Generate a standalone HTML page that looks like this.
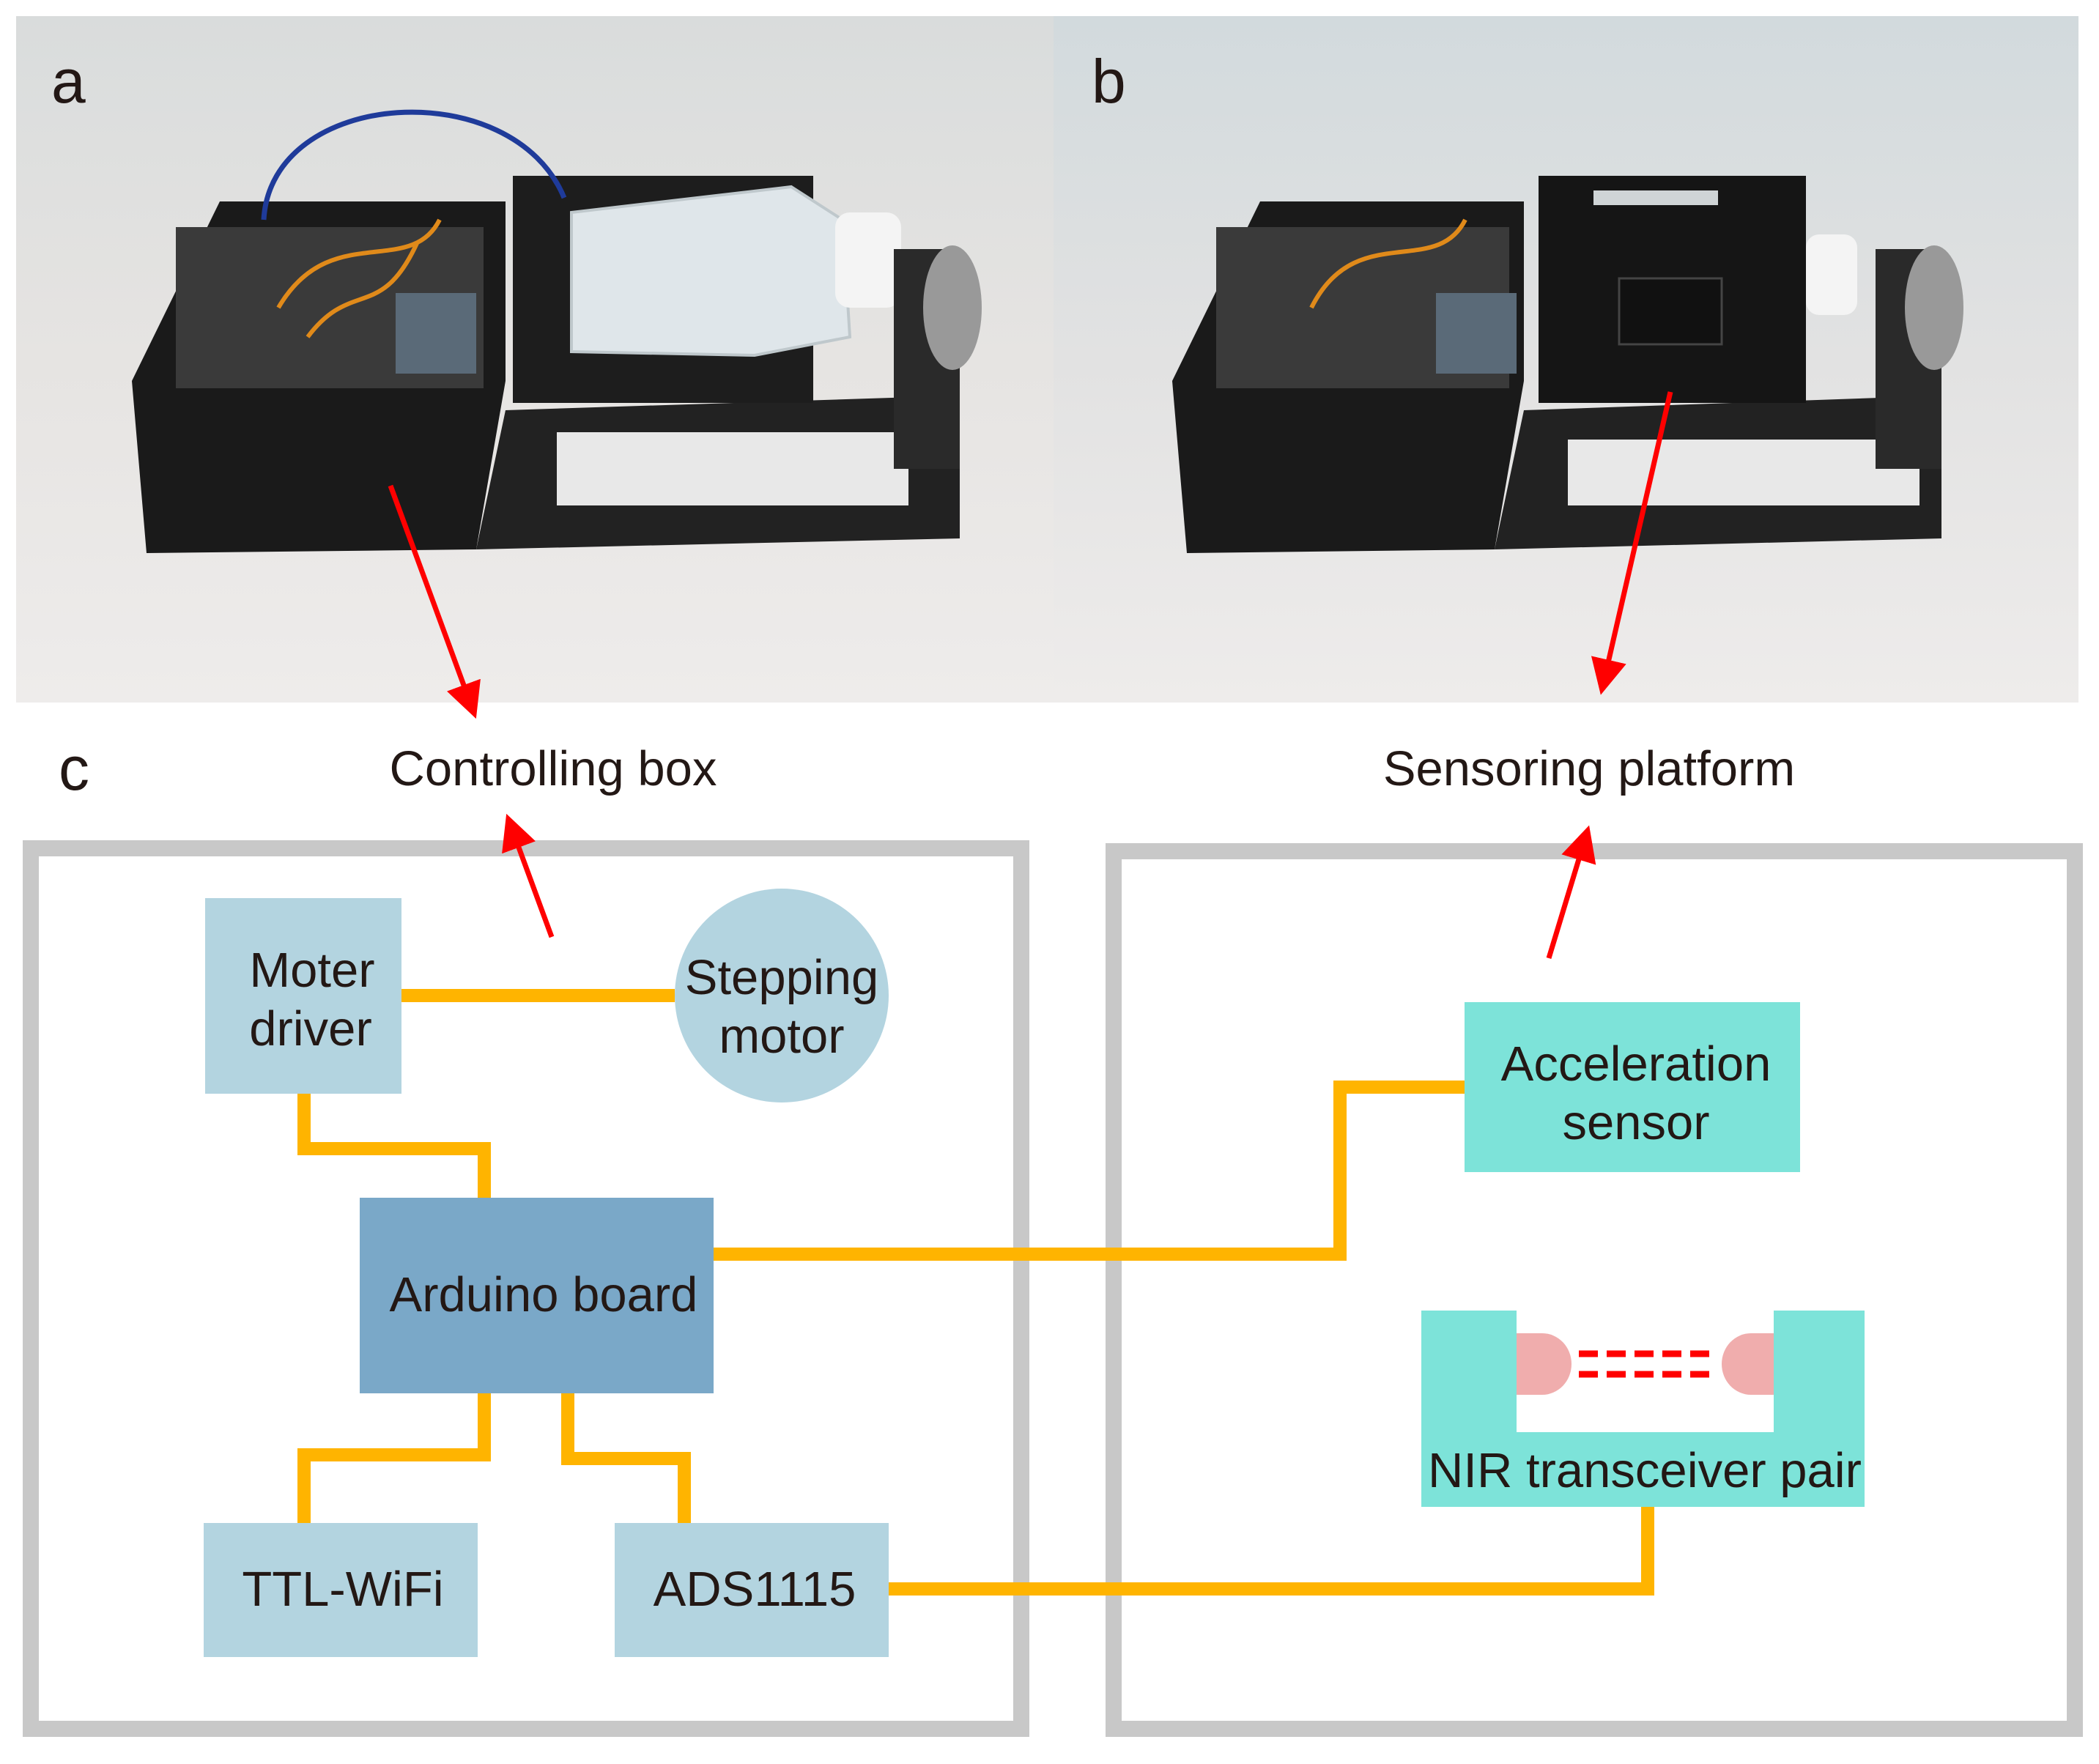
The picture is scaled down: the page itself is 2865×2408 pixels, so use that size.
<!DOCTYPE html>
<html><head><meta charset="utf-8"><style>
html,body{margin:0;padding:0;background:#fff}
svg{display:block}
text{font-family:"Liberation Sans",Arial,sans-serif;fill:#231815}
</style></head><body>
<svg width="2865" height="2408" viewBox="0 0 2865 2408" xmlns="http://www.w3.org/2000/svg">
<defs>
<linearGradient id="bg1" x1="0" y1="0" x2="0" y2="1">
<stop offset="0" stop-color="#d9dcdc"/><stop offset="0.5" stop-color="#e6e4e2"/><stop offset="1" stop-color="#eeeceb"/></linearGradient>
<linearGradient id="bg2" x1="0" y1="0" x2="0" y2="1">
<stop offset="0" stop-color="#d2dadd"/><stop offset="0.5" stop-color="#e2e2e2"/><stop offset="1" stop-color="#eeeceb"/></linearGradient>
<marker id="ah" markerWidth="7" markerHeight="7" refX="5" refY="3.5" orient="auto" markerUnits="strokeWidth">
<path d="M0,0 L7,3.5 L0,7 z" fill="#ff0000"/></marker>
</defs>
<rect x="22" y="22" width="1416" height="937" fill="url(#bg1)"/>
<rect x="1438" y="22" width="1399" height="937" fill="url(#bg2)"/>
<g>
<polygon points="180,520 300,275 690,275 690,520 650,750 200,755" fill="#1a1a1a"/>
<rect x="240" y="310" width="420" height="220" fill="#3a3a3a"/>
<polygon points="690,560 1310,540 1310,735 650,750" fill="#222"/>
<rect x="760" y="590" width="480" height="100" fill="#e8e8e8"/>
<rect x="700" y="240" width="410" height="310" fill="#1d1d1d"/>
<polygon points="780,290 1080,255 1150,300 1160,460 1030,485 780,480" fill="#dfe6ea" stroke="#bfc8cc" stroke-width="4"/>
<rect x="1140" y="290" width="90" height="130" rx="20" fill="#f4f4f4"/>
<rect x="1220" y="340" width="90" height="300" fill="#2a2a2a"/>
<ellipse cx="1300" cy="420" rx="40" ry="85" fill="#999"/>
<path d="M360,300 C370,120 700,100 770,270" stroke="#1f3b9a" stroke-width="7" fill="none"/>
<path d="M380,420 C450,300 560,380 600,300 M420,460 C480,380 520,440 570,330" stroke="#e08a1a" stroke-width="6" fill="none"/>
<rect x="540" y="400" width="110" height="110" fill="#5a6a78"/>
</g>
<g>
<polygon points="1600,520 1720,275 2080,275 2080,520 2040,750 1620,755" fill="#1a1a1a"/>
<rect x="1660" y="310" width="400" height="220" fill="#3a3a3a"/>
<polygon points="2080,560 2650,540 2650,735 2040,750" fill="#222"/>
<rect x="2140" y="600" width="480" height="90" fill="#e8e8e8"/>
<rect x="2100" y="240" width="365" height="310" fill="#151515"/>
<rect x="2175" y="260" width="170" height="20" fill="#cfd4d6"/>
<rect x="2210" y="380" width="140" height="90" fill="#111" stroke="#444" stroke-width="3"/>
<rect x="2465" y="320" width="70" height="110" rx="18" fill="#f4f4f4"/>
<rect x="2560" y="340" width="90" height="300" fill="#2a2a2a"/>
<ellipse cx="2640" cy="420" rx="40" ry="85" fill="#999"/>
<path d="M1790,420 C1850,300 1960,380 2000,300" stroke="#e08a1a" stroke-width="6" fill="none"/>
<rect x="1960" y="400" width="110" height="110" fill="#5a6a78"/>
</g>
<text x="70" y="140" font-size="84">a</text>
<text x="1490" y="140" font-size="84">b</text>
<text x="80" y="1078" font-size="84">c</text>
<text x="755" y="1072" font-size="67" text-anchor="middle">Controlling box</text>
<text x="2169" y="1072" font-size="67" text-anchor="middle">Sensoring platform</text>
<rect x="42" y="1158" width="1352" height="1202" fill="none" stroke="#c8c8c8" stroke-width="22"/>
<rect x="1520" y="1162" width="1312" height="1198" fill="none" stroke="#c8c8c8" stroke-width="22"/>
<g stroke="#ffb400" stroke-width="18" fill="none">
<path d="M548,1359 H921"/>
<path d="M415,1493 V1568 H661 V1635"/>
<path d="M974,1712 H1829 V1484 H1999"/>
<path d="M661,1902 V1986 H415 V2079"/>
<path d="M775,1902 V1991 H934 V2079"/>
<path d="M1213,2169 H2249 V2057"/>
</g>
<rect x="280" y="1226" width="268" height="267" fill="#b3d4e0"/>
<text x="426" y="1347" font-size="67" text-anchor="middle">Moter</text>
<text x="424" y="1427" font-size="67" text-anchor="middle">driver</text>
<circle cx="1067" cy="1359" r="146" fill="#b3d4e0"/>
<text x="1067" y="1357" font-size="67" text-anchor="middle">Stepping</text>
<text x="1067" y="1437" font-size="67" text-anchor="middle">motor</text>
<rect x="491" y="1635" width="483" height="267" fill="#7aa8c8"/>
<text x="742" y="1790" font-size="67" text-anchor="middle">Arduino board</text>
<rect x="278" y="2079" width="374" height="183" fill="#b3d4e0"/>
<text x="468" y="2192" font-size="67" text-anchor="middle">TTL-WiFi</text>
<rect x="839" y="2079" width="374" height="183" fill="#b3d4e0"/>
<text x="1030" y="2192" font-size="67" text-anchor="middle">ADS1115</text>
<rect x="1999" y="1368" width="458" height="232" fill="#7de3d9"/>
<text x="2233" y="1475" font-size="67" text-anchor="middle">Acceleration</text>
<text x="2233" y="1555" font-size="67" text-anchor="middle">sensor</text>
<path d="M1940,1789 H2070 V1955 H2421 V1789 H2545 V2057 H1940 Z" fill="#7de3d9"/>
<path d="M2070,1820 H2105 A40,42 0 0 1 2105,1904 H2070 Z" fill="#f0adad"/>
<path d="M2421,1820 H2390 A40,42 0 0 0 2390,1904 H2421 Z" fill="#f0adad"/>
<g stroke="#ff0000" stroke-width="9" stroke-dasharray="26,12">
<path d="M2155,1848 H2345"/><path d="M2155,1876 H2345"/>
</g>
<text x="2245" y="2030" font-size="67" text-anchor="middle">NIR transceiver pair</text>
<g stroke="#ff0000" stroke-width="7" fill="none" marker-end="url(#ah)">
<path d="M533,663 L645,968"/>
<path d="M2280,535 L2188,935"/>
<path d="M753,1279 L696,1124"/>
<path d="M2114,1308 L2165,1140"/>
</g>
</svg>
</body></html>
